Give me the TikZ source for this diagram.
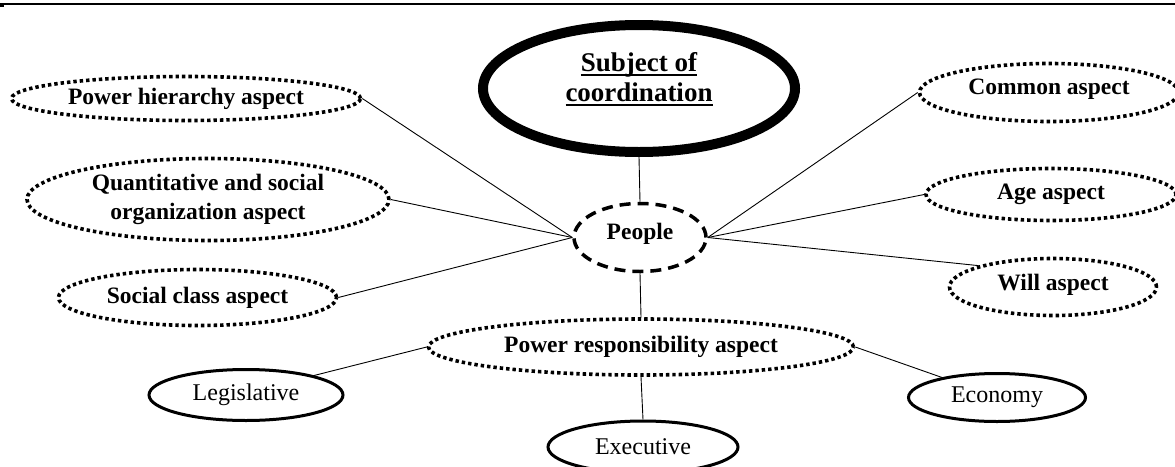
\documentclass[tikz,border=0pt]{standalone}
\usepackage{fontspec}
\setmainfont{Liberation Serif}
\usetikzlibrary{shapes.geometric}
\newlength\myulw
\newcommand\myul[1]{\settowidth\myulw{#1}\rlap{#1}\rule[-4pt]{\myulw}{1.8pt}}
\newcommand\myup[2]{\raisebox{#1}[\height][\depth]{#2}}
\begin{document}
\begin{tikzpicture}[x=1pt,y=-1pt,
  oval/.style={ellipse, inner sep=0pt, align=center},
  dotbox/.style={oval, draw, line width=3.6pt, dash pattern=on 3.4pt off 3.0pt,
    font=\fontsize{23.5}{29}\selectfont\bfseries},
  solidbox/.style={oval, draw, line width=3pt, font=\fontsize{24}{28}\selectfont},
  peoplebox/.style={oval, draw, line width=3.5pt, dash pattern=on 11pt off 7pt,
    font=\fontsize{23.5}{28}\selectfont\bfseries},
  subjbox/.style={ellipse, inner sep=0pt, draw, line width=10pt, font=\fontsize{27}{30}\selectfont\bfseries},
  conn/.style={line width=0.9pt}
]
\useasboundingbox (0,0) rectangle (1175,466);
\clip (0,0) rectangle (1175,466);
% top rule
\draw[line width=1.5pt] (0,4) -- (1175,4);
\fill (0,4) rectangle (4,7);

\node[subjbox, minimum width=312pt, minimum height=127pt] (subj) at (639,88.5)
  {\myup{8pt}{\begin{tabular}{@{}c@{}}\myul{Subject of}\\\myul{coordination}\end{tabular}}};
\node[peoplebox, minimum width=132pt, minimum height=68pt] (people) at (640,237.5) {\myup{4pt}{People}};

\node[dotbox, minimum width=349pt, minimum height=44pt] (ph) at (186,98.5) {Power hierarchy aspect};
\node[dotbox, minimum width=362pt, minimum height=82pt] (qs) at (208,199.5)
  {Quantitative and social\\organization aspect};
\node[dotbox, minimum width=278pt, minimum height=56pt] (sc) at (197.5,297.5) {Social class aspect};

\node[dotbox, minimum width=259pt, minimum height=58pt] (common) at (1049,92.5) {\myup{3pt}{Common aspect}};
\node[dotbox, minimum width=250pt, minimum height=52pt] (age) at (1051,194.5) {Age aspect};
\node[dotbox, minimum width=207pt, minimum height=57pt] (will) at (1053,287) {\myup{2pt}{Will aspect}};

\node[dotbox, minimum width=425pt, minimum height=56pt] (pr) at (641,347) {Power responsibility aspect};

\node[solidbox, minimum width=194pt, minimum height=51pt] (leg) at (246,395) {Legislative};
\node[solidbox, minimum width=190pt, minimum height=52pt] (exe) at (643,447) {Executive};
\node[solidbox, minimum width=177pt, minimum height=48pt] (eco) at (997,397.5) {Economy};

\draw[conn] (subj.south) -- (people.north);
\draw[conn] (ph.east) -- (people.west);
\draw[conn] (qs.east) -- (people.west);
\draw[conn] (sc.east) -- (people.west);
\draw[conn] (common.west) -- (people.east);
\draw[conn] (age.west) -- (people.east);
\draw[conn] (will.164) -- (people.east);
\draw[conn] (people.south) -- (pr.north);
\draw[conn] (leg.16) -- (pr.west);
\draw[conn] (pr.south) -- (exe.north);
\draw[conn] (pr.east) -- (eco.160);
\end{tikzpicture}
\end{document}
